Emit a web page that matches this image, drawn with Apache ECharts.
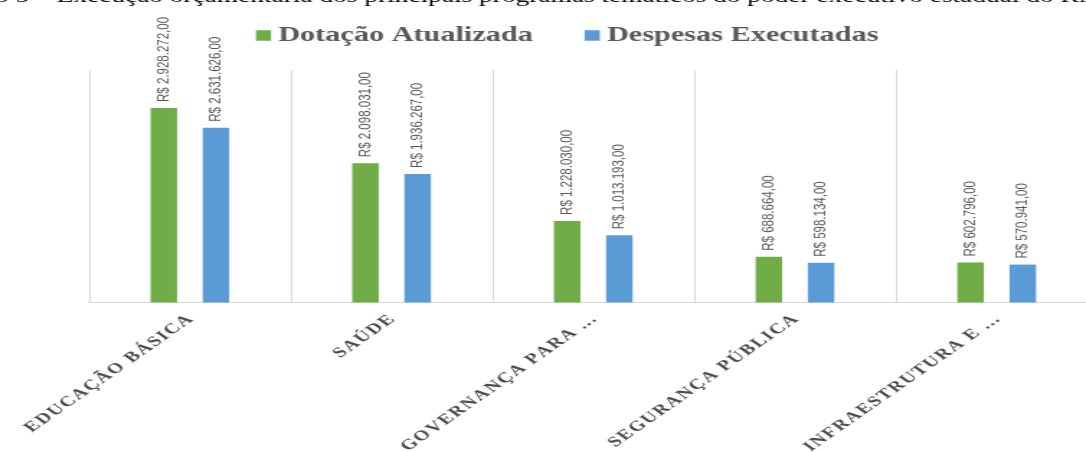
<!DOCTYPE html>
<html lang="pt-BR">
<head>
<meta charset="utf-8">
<title>Execução orçamentária</title>
<script src="https://cdn.jsdelivr.net/npm/echarts@6/dist/echarts.min.js"></script>
<style>
  html, body { margin: 0; padding: 0; background: #fff; overflow: hidden; }
  #wrap { width: 1086px; height: 452px; overflow: hidden; position: relative; }
  /* The figure is drawn at a narrower width and widened horizontally */
  #chart { width: 754px; height: 452px; transform: scaleX(1.4403); transform-origin: 0 0; }
</style>
</head>
<body>
<div id="wrap"><div id="chart"></div></div>
<script>
// Programas temáticos (rótulos truncados como no eixo original)
const categories = ['Educação Básica', 'Saúde', 'Governança para ...', 'Segurança Pública', 'Infraestrutura e ...'];
const seriesNames = ['Dotação Atualizada', 'Despesas Executadas'];
// Valores em R$
const dotacaoAtualizada = [2928272, 2098031, 1228030, 688664, 602796];
const despesasExecutadas = [2631626, 1936267, 1013193, 598134, 570941];
const valueMax = 3500000;

const titleText = 'Gráfico 5 – Execução orçamentária dos principais programas temáticos do poder executivo estadual do RN';

// Formata número no padrão monetário brasileiro: R$ 1.234.567,00
function brl(v) {
  const parts = v.toFixed(2).split('.');
  return 'R$ ' + parts[0].replace(/\B(?=(\d{3})+(?!\d))/g, '.') + ',' + parts[1];
}

// Leve espaçamento entre letras dos rótulos do eixo
function spaced(s, sep) {
  return Array.from(s).join(sep);
}

const gray = '#595959';
const serif = "'Liberation Serif', 'Times New Roman', serif";
const chart = echarts.init(document.getElementById('chart'), null, { renderer: 'canvas' });

const labelStyle = {
  show: true,
  position: 'top',
  rotate: 90,
  align: 'left',
  verticalAlign: 'middle',
  distance: 6,
  color: gray,
  fontFamily: "'Liberation Sans', Arial, sans-serif",
  fontSize: 11.5,
  formatter: p => brl(p.value)
};

chart.setOption({
  animation: false,
  backgroundColor: '#ffffff',
  title: {
    text: titleText,
    left: -52,
    top: -12.5,
    padding: 0,
    textStyle: {
      fontFamily: serif,
      fontWeight: 'normal',
      fontSize: 19,
      color: '#000000'
    }
  },
  legend: {
    top: 20,
    left: 172.7,
    itemWidth: 10.5,
    itemHeight: 10.5,
    itemGap: 36,
    icon: 'rect',
    data: seriesNames,
    textStyle: {
      fontFamily: serif,
      fontWeight: 'bold',
      fontSize: 21,
      color: gray
    }
  },
  grid: {
    left: 61.8,
    top: 70,
    width: 700.2,
    height: 232.5,
    containLabel: false,
    outerBoundsMode: 'none'
  },
  xAxis: {
    type: 'category',
    data: categories,
    boundaryGap: true,
    axisLine: { show: true, lineStyle: { color: '#d9d9d9', width: 1 } },
    axisTick: { show: false },
    splitLine: { show: true, lineStyle: { color: '#d9d9d9', width: 1 } },
    axisLabel: {
      interval: 0,
      rotate: 45,
      margin: 15,
      color: '#4d4d4d',
      fontFamily: serif,
      fontWeight: 'bold',
      fontSize: 14.5,
      formatter: v => spaced(v.toUpperCase(), '\u200A')
    }
  },
  yAxis: {
    type: 'value',
    min: 0,
    max: valueMax,
    show: false,
    splitLine: { show: false }
  },
  series: [
    {
      name: seriesNames[0],
      type: 'bar',
      data: dotacaoAtualizada,
      barWidth: 18.4,
      barGap: '97%',
      itemStyle: { color: '#70ad47' },
      label: labelStyle
    },
    {
      name: seriesNames[1],
      type: 'bar',
      data: despesasExecutadas,
      barWidth: 18.4,
      barGap: '97%',
      itemStyle: { color: '#5b9bd5' },
      label: labelStyle
    }
  ]
});
</script>
</body>
</html>
